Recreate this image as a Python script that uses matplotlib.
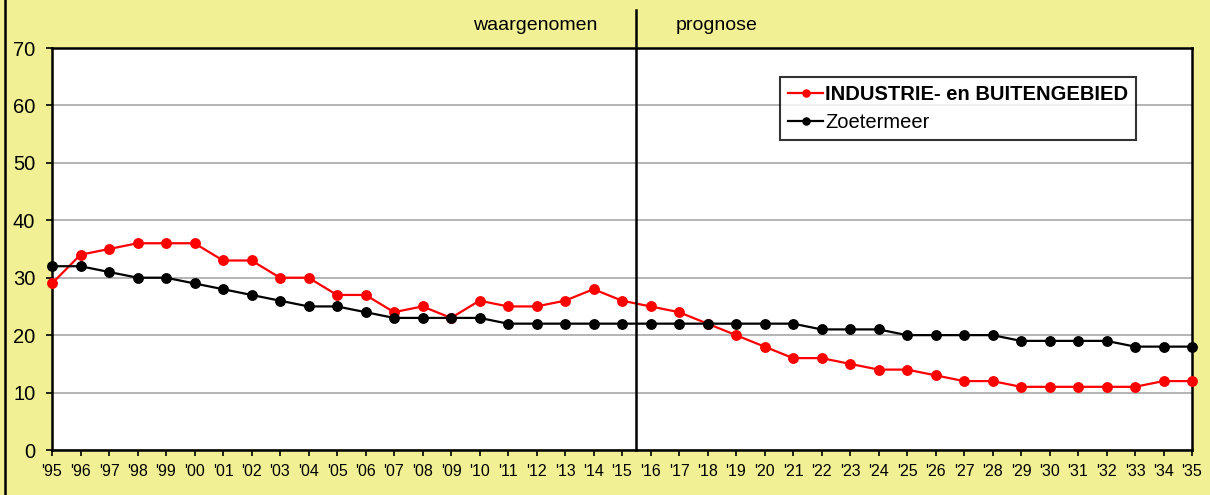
import matplotlib.pyplot as plt
from matplotlib.lines import Line2D

plt.rcParams['font.family'] = ['Liberation Sans', 'DejaVu Sans']

years = ["'95", "'96", "'97", "'98", "'99", "'00", "'01", "'02", "'03", "'04",
         "'05", "'06", "'07", "'08", "'09", "'10", "'11", "'12", "'13", "'14",
         "'15", "'16", "'17", "'18", "'19", "'20", "'21", "'22", "'23", "'24",
         "'25", "'26", "'27", "'28", "'29", "'30", "'31", "'32", "'33", "'34",
         "'35"]

industrie = [29, 34, 35, 36, 36, 36, 33, 33, 30, 30,
             27, 27, 24, 25, 23, 26, 25, 25, 26, 28,
             26, 25, 24, 22, 20, 18, 16, 16, 15, 14,
             14, 13, 12, 12, 11, 11, 11, 11, 11, 12,
             12]

zoetermeer = [32, 32, 31, 30, 30, 29, 28, 27, 26, 25,
              25, 24, 23, 23, 23, 23, 22, 22, 22, 22,
              22, 22, 22, 22, 22, 22, 22, 21, 21, 21,
              20, 20, 20, 20, 19, 19, 19, 19, 18, 18,
              18]

split_after = "'15"
bg = '#F2F094'

fig = plt.figure(figsize=(12.1, 4.95), dpi=100, facecolor=bg)
ax = fig.add_axes([52 / 1210, 45 / 495, 1140 / 1210, 402 / 495])
ax.set_facecolor('white')

x = list(range(len(years)))
ax.plot(x, industrie, color='#FF0000', lw=1.6, marker='o', ms=6.8,
        label='INDUSTRIE- en BUITENGEBIED', clip_on=False, zorder=3)
ax.plot(x, zoetermeer, color='black', lw=1.6, marker='o', ms=6.8,
        label='Zoetermeer', clip_on=False, zorder=3)

ax.set_xlim(0, len(years) - 1)
ax.set_ylim(0, 70)
ax.set_yticks(range(0, 71, 10))
ax.set_xticks(x)
ax.set_xticklabels(years)
ax.tick_params(axis='x', labelsize=11.5, length=4, width=1.2, pad=6)
ax.tick_params(axis='y', labelsize=14.5, length=4, width=1.2, pad=8)
ax.yaxis.grid(True, color='#A8A8A8', lw=1.2)
ax.set_axisbelow(True)
for s in ax.spines.values():
    s.set_linewidth(1.8)
    s.set_color('black')

# boundary between observed and forecast years
xs = years.index(split_after) + 0.5
ax.plot([xs, xs], [0, 76.6], color='black', lw=1.8, clip_on=False, zorder=4)
ax.text(xs - 1.37, 74.0, 'waargenomen', ha='right', va='center', fontsize=14)
ax.text(xs + 1.4, 74.0, 'prognose', ha='left', va='center', fontsize=14)

leg = ax.legend(loc='upper left', bbox_to_anchor=(728 / 1140, 1 - 29 / 402),
                fontsize=14.5, frameon=True, fancybox=False, edgecolor='black',
                handlelength=1.75, handletextpad=0.1, borderpad=0.4,
                labelspacing=0.45, borderaxespad=0, markerscale=0.75)
leg.get_frame().set_linewidth(1.5)
leg.get_texts()[0].set_fontweight('bold')

fig.add_artist(Line2D([5 / 1210, 5 / 1210], [0, 1], color='black', lw=1.8))

fig.savefig('out.png', dpi=100, facecolor=bg)
